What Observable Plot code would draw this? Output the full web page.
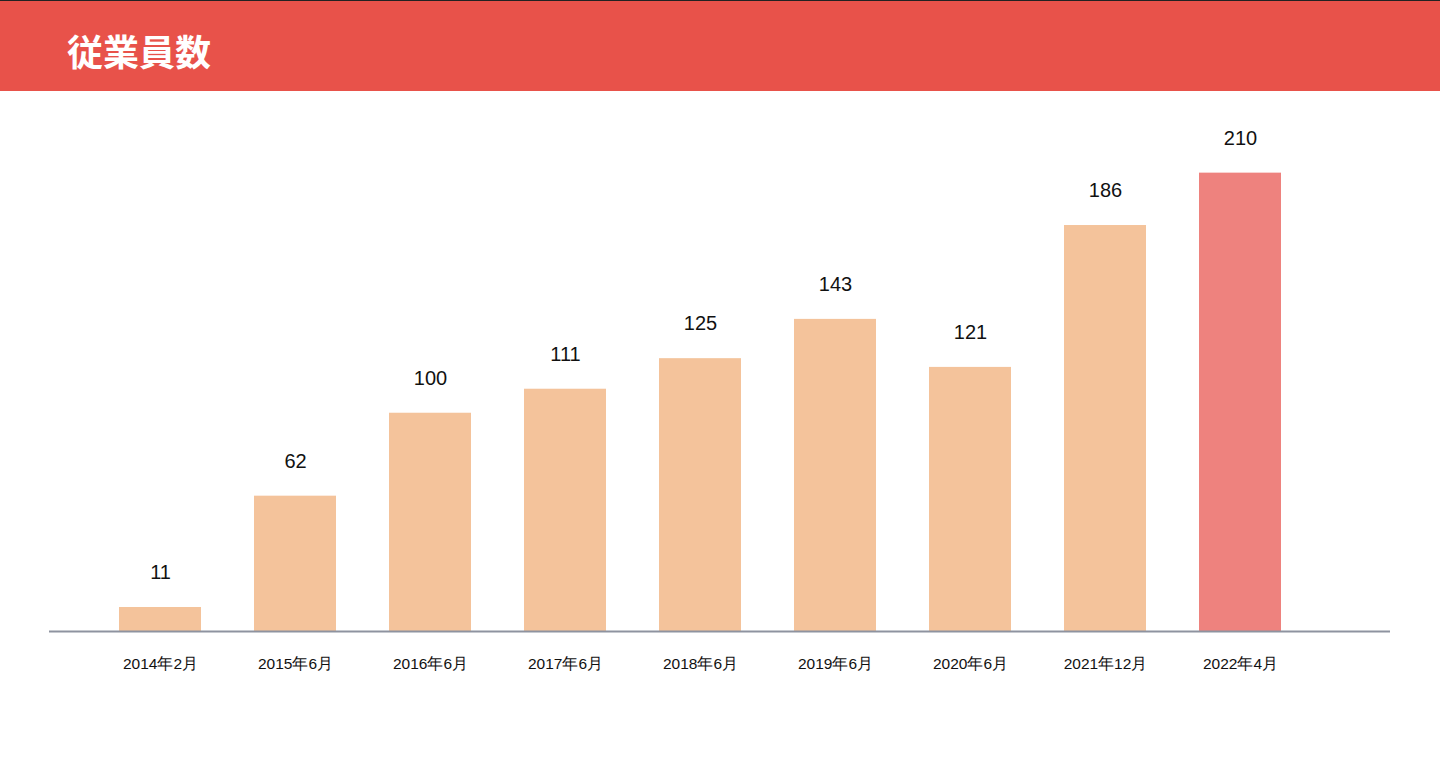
<!DOCTYPE html>
<html><head><meta charset="utf-8">
<script src="https://cdn.jsdelivr.net/npm/d3@7"></script>
<script src="https://cdn.jsdelivr.net/npm/@observablehq/plot@0.6"></script>
<style>
html,body{margin:0;padding:0;background:#fff;}
#hdr{height:90px;background:#E8524A;border-top:1px solid #222;box-sizing:content-box;position:relative;}
#hdr h1{margin:0;position:absolute;left:67px;top:31px;font:bold 36px/1 "Noto Sans CJK JP","Noto Sans",sans-serif;color:#fff;}
#chart svg{display:block;}
</style></head>
<body>
<div id="hdr"><h1>従業員数</h1></div>
<div id="chart"></div>
<script>
const categories = ["2014年2月","2015年6月","2016年6月","2017年6月","2018年6月","2019年6月","2020年6月","2021年12月","2022年4月"];
const values = [11, 62, 100, 111, 125, 143, 121, 186, 210];
const highlight = [false,false,false,false,false,false,false,false,true];

const data = categories.map((c,i)=>({cat:c, v:values[i], hl:highlight[i]}));

const chart = Plot.plot({
  width: 1440,
  height: 669,
  marginLeft: 49,
  marginRight: 50,
  marginTop: 0,
  marginBottom: 129,
  style: {fontFamily: "'Liberation Sans', Arial, sans-serif", background: "#fff"},
  x: {domain: categories, range: [92.5, 1307.5], paddingInner: 0.393, paddingOuter: 0.1965, axis: null},
  y: {domain: [0, 213.5], range: [540, 74], axis: null},
  marks: [
    Plot.barY(data, {x: "cat", y: "v", fill: d => d.hl ? "#EE827E" : "#F4C39B"}),
    Plot.ruleY([0], {stroke: "#8E93A0", strokeWidth: 2}),
    Plot.text(data, {x: "cat", y: "v", text: d => String(d.v), dy: -35, fontSize: 20, fill: "#111", lineAnchor: "middle"}),
    Plot.text(data, {x: "cat", y: () => 0, text: "cat", dy: 33, fontSize: 15.5, fill: "#111", lineAnchor: "middle"})
  ]
});
document.getElementById("chart").appendChild(chart);
</script>
</body></html>
